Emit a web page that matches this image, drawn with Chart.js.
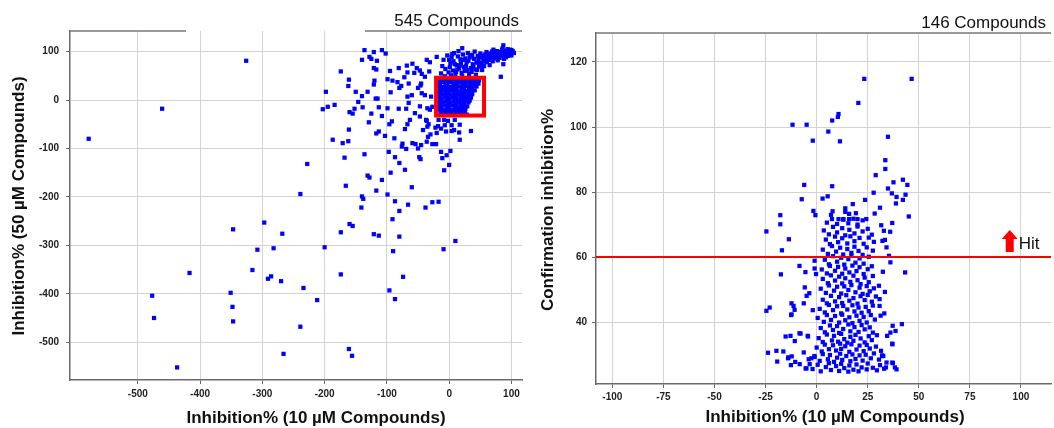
<!DOCTYPE html>
<html>
<head>
<meta charset="utf-8">
<script src="https://cdn.jsdelivr.net/npm/chart.js@4"></script>
<style>
  html, body { margin: 0; padding: 0; background: #fff; }
  body { width: 1054px; height: 428px; position: relative; overflow: hidden; }
  .panel { position: absolute; top: 0; height: 428px; }
</style>
</head>
<body>
<div class="panel" style="left:0;width:530px"><canvas id="leftChart"></canvas></div>
<div class="panel" style="left:530px;width:524px"><canvas id="rightChart"></canvas></div>
<script>
Chart.defaults.font.family = "'Liberation Sans', Arial, sans-serif";
Chart.defaults.color = '#222';

// tick labels
const leftXTicks = [-500, -400, -300, -200, -100, 0, 100];
const leftYTicks = [-500, -400, -300, -200, -100, 0, 100];
const rightXTicks = [-100, -75, -50, -25, 0, 25, 50, 75, 100];
const rightYTicks = [40, 60, 80, 100, 120];

const leftTitle = '545 Compounds';
const rightTitle = '146 Compounds';
const xAxisTitle = 'Inhibition% (10 \u00b5M Compounds)';
const leftYTitle = 'Inhibition% (50 \u00b5M Compounds)';
const rightYTitle = 'Confirmation inhibition%';

// highlighted region on the left plot: x1, y1, x2, y2
const focusBox = [-21, -32, 56, 46];
// hit cut-off on the right plot
const hitThreshold = 60;
const hitLabel = 'Hit';
const hitArrowX = 94.5;

// left panel: 10 uM vs 50 uM inhibition
const leftFar = [
  [-579,-80],[-461,-18],[-326,81],[-239,-194],[-228,-132],
  [-477,-404],[-474,-450],[-437,-552],[-417,-357],[-351,-398],[-348,-427],[-347,-267],[-347,-457],
  [-316,-351],[-308,-309],[-297,-253],[-291,-369],[-286,-364],[-282,-306],[-270,-374],[-268,-276],
  [-266,-524],[-239,-468],[-234,-388],[-212,-413],[-200,-304],[-174,-273],[-174,-360],[-160,-256],
  [-155,-260],[-161,-514],[-156,-528],[-121,-277],[-113,-280],[-96,-393],[-91,-246],[-90,-312],
  [-87,-411],[-80,-282],[-80,-229],[-74,-365],[-87,-209],[-66,-216],[-38,-222],[-27,-211],
  [-17,-210],[-9,-308],[10,-291]
];
const leftMid = [
  [-136,103],[-121,99],[-108,103],[-102,96],[-128,89],[-125,85],[-140,83],[-116,81],[-121,66],
  [-117,63],[-95,60],[-81,66],[-68,71],[-67,57],[-174,59],[-161,42],[-162,29],[-120,40],[-121,32],
  [-99,43],[-91,40],[-83,37],[-77,29],[-80,25],[-72,47],[-94,16],[-150,17],[-131,17],[-140,8],
  [-118,3],[-115,3],[-198,17],[-146,-4],[-203,-19],[-195,-14],[-184,-10],[-152,-18],[-139,-15],
  [-160,-25],[-155,-28],[-125,-28],[-113,-15],[-99,-17],[-108,-33],[-81,-18],[-69,-18],[-129,-46],
  [-96,-50],[-92,-44],[-67,-50],[-67,7],[-65,-6],
  [-161,-61],[-187,-82],[-171,-89],[-162,-85],[-117,-69],[-113,-65],[-103,-74],[-88,-79],[-71,-60],
  [-75,-90],[-76,-96],[-69,-101],[-97,-107],[-87,-118],[-80,-130],[-71,-144],[-168,-119],[-136,-112],
  [-131,-156],[-128,-160],[-108,-165],[-94,-150],[-166,-177],[-117,-187],[-99,-195],[-140,-199],
  [-138,-204],[-141,-222]
];
const leftNear = [
  [-42,-62],[-35,-55],[-22,-57],[-13,-59],[-5,-65],[4,-64],[8,-62],[16,-67],[35,-64],[17,-82],
  [-30,-71],[-34,-76],[-20,-68],[-36,-86],[-59,-89],[-54,-91],[-45,-93],[-50,-100],[-27,-91],
  [-21,-91],[-13,-107],[2,-105],[-4,-114],[-11,-120],[-48,-118],[-46,-122],[0,-134],[-8,-145],[-60,-180],
  [87,113],[100,103],[96,99],[21,107],[84,94],[87,74],[83,48],[52,70],[-59,75],[-52,66],[-47,61],
  [-36,83],[-31,78],[-20,89],[-56,56],[-44,54],[-32,59],[-65,34],[-50,25],[-46,30],[-60,10],
  [-47,-13],[-39,10],[-35,-17],[-31,-20],[-55,-27],[-47,-34],[-36,-43],[-63,-41],[-8,-41],[-2,-43],
  [9,-41],[17,-51],[4,-52],[-7,-52],[-18,-54],[28,-30],
  [-39,48],[-29,7],[-27,-14],[-37,-41],[-33,-50],[-17,-41],[-44,14],[-45,34]
];
const leftBand = [
  [-13,55],[-9,83],[-6,64],[-11,70],[-3,92],[-1,57],[2,76],[-7,49],[4,88],[6,61],[1,68],[8,97],
  [10,53],[7,80],[12,72],[14,90],[11,58],[16,65],[18,84],[15,101],[20,56],[19,76],[22,94],[24,68],
  [21,49],[26,86],[25,60],[28,78],[30,97],[27,70],[32,54],[33,88],[35,66],[31,81],[37,93],[38,74],
  [36,58],[40,85],[42,63],[41,100],[44,77],[46,91],[43,52],[48,69],[47,83],[50,96],[52,75],[53,62],
  [51,88],[55,82],[57,94],[56,70],[59,87],[61,78],[60,99],[63,91],[64,83],[66,96],[65,72],[68,88],
  [69,100],[70,80],[72,93],[73,86],[71,104],[75,97],[76,89],[78,82],[77,101],[80,94],[81,87],[82,99],
  [84,91],[85,104],[86,96],[88,85],[89,99],[90,93],[92,102],[91,88],[93,97],[95,91],[94,105],[96,100],
  [97,94],[99,98],[100,92],[102,101],[104,97],[98,104],[86,107],[79,96],[74,91],[67,92],[62,86],[58,79],
  [54,91],[49,77],[45,62],[39,68],[34,93],[29,62],[23,83],[17,71],[13,63],[9,74],[5,95],[3,51],[0,83]
];
const leftCore = [
  [-17,43],[-11,44],[-5,42],[1,44],[7,43],[13,41],[19,44],[25,42],[31,44],[37,42],[43,44],[48,41],
  [-18,36],[-12,37],[-6,35],[0,37],[6,36],[12,34],[18,37],[24,35],[30,37],[36,35],[42,36],[47,34],
  [-16,29],[-10,27],[-4,29],[2,27],[8,29],[14,28],[20,26],[26,29],[32,27],[38,29],[44,28],
  [-18,21],[-12,19],[-6,21],[0,19],[6,21],[12,20],[18,18],[24,21],[30,19],[36,21],[41,20],
  [-17,13],[-11,11],[-5,13],[1,11],[7,13],[13,12],[19,10],[25,13],[31,11],[37,12],
  [-18,5],[-12,3],[-6,5],[0,3],[6,5],[12,4],[18,2],[24,5],[30,3],[35,5],
  [-17,-3],[-11,-5],[-5,-3],[1,-5],[7,-3],[13,-4],[19,-6],[25,-3],[31,-5],
  [-18,-11],[-12,-13],[-6,-11],[0,-13],[6,-11],[12,-12],[18,-14],[24,-11],[29,-13],
  [-16,-19],[-10,-21],[-4,-19],[2,-21],[8,-19],[14,-20],[20,-22],[26,-19],
  [-14,-25],[-8,-27],[-2,-25],[4,-27],[10,-25],[16,-26],[22,-27],
  [-14,40],[-2,39],[10,40],[22,39],[34,40],[45,39],
  [-15,32],[-3,33],[9,32],[21,31],[33,32],[40,33],
  [-13,24],[-1,23],[11,24],[23,25],[35,24],
  [-14,16],[-2,15],[10,17],[22,15],[33,16],
  [-15,8],[-3,7],[9,8],[21,9],[28,7],
  [-14,0],[-2,-1],[10,1],[22,0],[33,-1],
  [-13,-8],[-1,-9],[11,-7],[23,-8],
  [-14,-16],[-2,-17],[10,-15],[22,-16],
  [-11,-23],[1,-22],[13,-23],[25,-23]
];

// right panel: 10 uM vs confirmation inhibition
const rightOuter = [
  [23.3,114.8],[46.5,114.8],[20.4,107.4],[-11.8,100.7],[-4.9,100.7],[10.7,104],[10.4,103.1],[7.6,102],
  [5.7,98.6],[-1.9,95.8],[11.4,95.6],[34.9,97],[33.6,89.8],[33.6,87.1],[28.9,85.2],[42.2,83.8],
  [44.4,82.2],[37.6,83],[34.9,81.1],[36.8,79.6],[39.1,78.5],[43.5,79.2],[42.2,77.6],[38.8,76.5],
  [27.9,79.8],[23.7,77.6],[-6.1,82.2],[-7.3,77.8],[7.6,81.8],[2.9,78],[5.4,78.7],[-1.6,74.2],
  [-0.6,72.9],[-17.8,72.9],[17.7,76.3],[19.2,73.5],[14,75],[14,73.9],[7.8,74.1],[7,73],[15.9,73.3],
  [31,75.2],[28.4,73.4],[45.1,72.5],[10.7,71.7],[13.1,71.7],[15.9,71.7],[20,71.7],[24.3,71.7],
  [-24.6,67.9],[-17.8,70.1],[-13.6,65.5],[-17,62.1],[-17.5,54.7],[-8.4,57.3],[-5.5,55.4],[-1,58.9],
  [-1,56.5],[-0.3,54.8],[43.3,55.3],[37,70.5],[36,67.8],[32.9,68.1],[33.4,65.3],[34.2,63],[35.4,60.4],
  [31.6,69.8],[-24.6,43.5],[-23,44.5],[-12.3,45.8],[-11.3,45],[-10.8,43.8],[-12.3,42.4],[-5.8,50.7],
  [-4.9,48.1],[-3.6,48.9],[-6.3,45.8],[-1.9,43.7],[-19.7,31.2],[-23.8,30.6],[-16.3,31],[-19.3,27.9],
  [-15.2,35.6],[-12.8,35.8],[-10.7,34.2],[-8.4,36.6],[-4.4,35.8],[-13.8,29.2],[-12.2,29.5],[-12.6,26.8],
  [-10.5,27.8],[-8.3,27.1],[-6.3,30.7],[-5.4,25.8],[-3.9,28.6],[-3.4,27.1],[-1.1,29.6],
  [37.2,38.9],[41.7,39.4],[37,33.4],[38.6,37.3],[38.3,26.1],[39.1,25.5],[37,27.6],[34.2,27.6],
  [32.1,29.8],[34.5,35.8],[33.4,49.3],[33.1,42.7],[31.3,42],[30.8,47.1],[30.8,45],[30.5,51.2],[32.4,55.5],
  [-7.9,36.5],[-4.2,35.6],[-12.5,42.2],[-14,28.9],[-5,25.8],[-2.6,28.9],[36.1,58.4],[32.2,65],
  [36.1,36.8],[37.1,33.2],[32.6,29.6],[37.3,27.4],[33.9,26.1]
];
const rightCore = [
  [-2,25.6],[0.5,26.9],[2,24.9],[4.5,26.2],[6,27.4],[7,25.3],[9.5,26.5],[11,25],[12,27.2],[13.5,25.9],
  [15.5,24.8],[16,26.7],[18,25.4],[19.5,27],[20.5,24.9],[22,26.1],[24.5,25.5],[25,27.3],[27.5,26],
  [29.5,25.2],[31,26.8],[33,25.7],
  [-1,29.3],[1.5,28.1],[3,30.2],[5.5,28.6],[6.5,29.9],[8.5,27.8],[10,29.1],[11.5,30.3],[12.5,28.4],
  [14.5,29.6],[16.5,28],[17.5,30.1],[19,28.7],[21,29.8],[22.5,28.2],[24,30],[26.5,28.9],[28,30.4],
  [30.5,28.5],[32,29.6],
  [0,32.2],[2.5,31],[4,33.1],[6,31.7],[8,32.9],[9.5,31.3],[11.5,33.4],[12,31.8],[14,32.6],[16,30.9],
  [17,33.2],[19.5,31.6],[21,32.8],[23,31.1],[24.5,33],[26,31.9],[29,32.5],[31.5,31.2],
  [1,35.1],[3,33.9],[5,36.2],[7.5,34.4],[8.5,35.8],[10.5,34],[12,36.4],[13.5,34.8],[15,33.7],[16.5,35.5],
  [18,34.3],[19,36.1],[21.5,35],[23.5,33.8],[25.5,35.7],[27,34.5],[29.5,36],
  [2,38.2],[4,36.9],[6.5,39],[8,37.6],[10,38.8],[11,36.7],[13,37.9],[15.5,39.3],[16.5,37.2],[18.5,38.5],
  [20.5,37],[22,39.1],[23.5,37.8],[26,38.4],[27.5,36.8],
  [0.5,41.3],[3.5,40.1],[5,42.2],[7,40.7],[9,41.9],[11,39.9],[12.5,42.3],[14,40.6],[16,41.5],[17.5,39.7],
  [19.5,42],[21,40.4],[23,41.6],[24.5,39.9],[26.5,42.2],[28.5,40.8],
  [1.5,44.1],[4,43],[6,45.3],[8,43.7],[10,44.9],[12,42.7],[13,45],[15,43.9],[17.5,45.2],[18.5,43.3],
  [20.5,44.5],[22,42.9],[24,44.7],[25.5,43.4],[27.5,45.1],
  [3,46.9],[5,45.8],[7,48.1],[9,46.4],[11,47.7],[12.5,45.9],[14.5,48.3],[16,46.6],[18,47.4],[20,45.7],
  [21.5,48],[23.5,46.8],[25,48.4],[27,46.3],[29,47.9],
  [2,50.3],[4.5,49],[6,51.3],[8.5,49.7],[10,50.9],[12,48.8],[13.5,51],[15.5,49.9],[17,51.4],[19,49.2],
  [21,50.6],[22.5,48.7],[24.5,51.1],[26,49.5],[28,50.4],
  [3,53.3],[5.5,52],[7,54.4],[9,52.8],[11,54],[12.5,51.9],[14,53.5],[16.5,52.4],[18,54.3],[20,52.9],
  [21.5,51.7],[23.5,53.7],[25.5,52.3],[27.5,54.2],
  [2.5,56.2],[5,55],[6.5,57.3],[9,55.8],[10.5,57],[12.5,54.9],[14,56.5],[16,55.3],[17.5,57.4],[19.5,55.7],
  [21,56.9],[23,54.8],[25,56.3],[27,57.2],
  [4,59.2],[6,57.8],[8,60.3],[10,58.6],[12,59.8],[13.5,57.7],[15.5,59.4],[17,60.4],[19,58.3],[21,59.6],
  [23,58],[25.5,60.1],
  [3,62.3],[5.5,61],[7.5,63.4],[9.5,61.7],[11.5,62.9],[13,60.8],[15,62.5],[17,61.3],[18.5,63.2],[20.5,61.9],
  [22.5,60.7],[24.5,63],[27.5,62],
  [4.5,65.4],[6.5,64],[9,66.3],[10.5,64.6],[12.5,65.8],[15,64.2],[16.5,66.4],[18.5,64.9],[21,65.9],[23,64.1],
  [25.5,66],[28,64.7],
  [3.5,68.2],[6,67],[8,69.3],[10,67.6],[12.5,68.9],[14,66.7],[16,68.4],[18.5,67.3],[20,69.4],[22.5,67.9],
  [25,68.7],[27,66.9],
  [5,70.6],[7.5,71.7],[10,70.2],[13,71.5],[15.5,70.4],[18,71.8],[20,70],[22.5,71.3]
];

const toPoints = (list) => list.map(p => ({ x: p[0], y: p[1] }));
const FONT = "'Liberation Sans', Arial, sans-serif";

function axis(min, max, ticks, fitKey, fitSize, pad) {
  return {
    type: 'linear',
    min: min,
    max: max,
    afterBuildTicks: (s) => { s.ticks = ticks.map(v => ({ value: v })); },
    afterFit: (s) => { s[fitKey] = fitSize; },
    grid: { color: '#d3d3d3', lineWidth: 1, tickLength: 4, tickColor: '#666' },
    border: { display: true, color: '#6a6a6a', width: 1.5 },
    ticks: { font: { size: 10, weight: 'bold' }, color: '#222', padding: pad }
  };
}

function dots(list) {
  return {
    data: toPoints(list),
    pointStyle: 'rect',
    pointRadius: 3,
    pointHoverRadius: 3,
    pointBackgroundColor: '#0000ff',
    pointBorderWidth: 0
  };
}

const leftDecor = {
  id: 'leftDecor',
  afterDatasetsDraw(chart) {
    const { ctx, scales: { x, y } } = chart;
    const x1 = x.getPixelForValue(focusBox[0]), x2 = x.getPixelForValue(focusBox[2]);
    const y1 = y.getPixelForValue(focusBox[1]), y2 = y.getPixelForValue(focusBox[3]);
    ctx.save();
    ctx.strokeStyle = '#ff0000';
    ctx.lineWidth = 4;
    ctx.strokeRect(x1, y2, x2 - x1, y1 - y2);
    ctx.restore();
  },
  afterDraw(chart) {
    const { ctx, chartArea: a } = chart;
    ctx.save();
    // top frame is broken where the header sits
    ctx.strokeStyle = '#777';
    ctx.lineWidth = 1.5;
    ctx.beginPath();
    ctx.moveTo(a.left, a.top); ctx.lineTo(186, a.top);
    ctx.moveTo(365, a.top); ctx.lineTo(a.right, a.top);
    ctx.stroke();
    ctx.fillStyle = '#111';
    ctx.textBaseline = 'middle';
    ctx.font = '17px ' + FONT;
    ctx.textAlign = 'right';
    ctx.fillText(leftTitle, 519, 21);
    ctx.font = 'bold 17px ' + FONT;
    ctx.textAlign = 'center';
    ctx.fillText(xAxisTitle, 316, 418);
    ctx.translate(19, 206);
    ctx.rotate(-Math.PI / 2);
    ctx.fillText(leftYTitle, 0, 0);
    ctx.restore();
  }
};

const rightDecor = {
  id: 'rightDecor',
  afterDatasetsDraw(chart) {
    const { ctx, chartArea: a, scales: { x, y } } = chart;
    const ly = Math.round(y.getPixelForValue(hitThreshold));
    ctx.save();
    ctx.strokeStyle = '#ff0000';
    ctx.lineWidth = 2;
    ctx.beginPath();
    ctx.moveTo(a.left, ly);
    ctx.lineTo(a.right, ly);
    ctx.stroke();
    // arrow + label
    const cx = x.getPixelForValue(hitArrowX);
    ctx.fillStyle = '#ff0000';
    ctx.beginPath();
    ctx.moveTo(cx, ly - 27);
    ctx.lineTo(cx + 8, ly - 18);
    ctx.lineTo(cx + 4, ly - 18);
    ctx.lineTo(cx + 4, ly - 5);
    ctx.lineTo(cx - 4, ly - 5);
    ctx.lineTo(cx - 4, ly - 18);
    ctx.lineTo(cx - 8, ly - 18);
    ctx.closePath();
    ctx.fill();
    ctx.fillStyle = '#111';
    ctx.font = '17px ' + FONT;
    ctx.textAlign = 'left';
    ctx.textBaseline = 'middle';
    ctx.fillText(hitLabel, cx + 9, ly - 13);
    ctx.restore();
  },
  afterDraw(chart) {
    const { ctx, chartArea: a } = chart;
    ctx.save();
    ctx.strokeStyle = '#777';
    ctx.lineWidth = 1.5;
    ctx.beginPath();
    ctx.moveTo(a.left, a.top); ctx.lineTo(a.right, a.top);
    ctx.stroke();
    ctx.fillStyle = '#111';
    ctx.textBaseline = 'middle';
    ctx.font = '17px ' + FONT;
    ctx.textAlign = 'right';
    ctx.fillText(rightTitle, 516, 23);
    ctx.font = 'bold 17px ' + FONT;
    ctx.textAlign = 'center';
    ctx.fillText(xAxisTitle, 305, 417);
    ctx.translate(18.5, 210);
    ctx.rotate(-Math.PI / 2);
    ctx.fillText(rightYTitle, 0, 0);
    ctx.restore();
  }
};

function makeChart(id, datasets, xScale, yScale, padding, decor) {
  return new Chart(document.getElementById(id), {
    type: 'scatter',
    data: { datasets: datasets },
    options: {
      responsive: true,
      maintainAspectRatio: false,
      animation: false,
      layout: { padding: padding },
      plugins: { legend: { display: false }, tooltip: { enabled: false } },
      scales: { x: xScale, y: yScale }
    },
    plugins: [decor]
  });
}

makeChart('leftChart',
  [dots(leftFar.concat(leftMid, leftNear, leftBand, leftCore))],
  axis(-609, 117, leftXTicks, 'height', 48, 4),
  axis(-578, 142.5, leftYTicks, 'width', 70, 7),
  { top: 31, right: 8, left: 0, bottom: 0 },
  leftDecor);

makeChart('rightChart',
  [dots(rightOuter.concat(rightCore))],
  axis(-108, 114.7, rightXTicks, 'height', 44, 3),
  axis(21, 128.9, rightYTicks, 'width', 66, 5),
  { top: 33, right: 0, left: 0, bottom: 0 },
  rightDecor);
</script>
</body>
</html>
